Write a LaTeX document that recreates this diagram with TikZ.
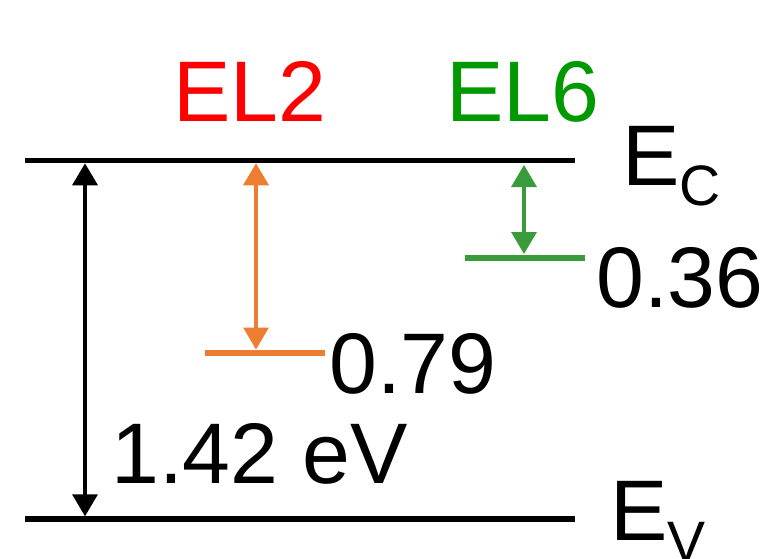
\documentclass[tikz,border=0pt]{standalone}
\usepackage{fontspec}
\setmainfont{Liberation Sans}
\usetikzlibrary{arrows.meta}
\definecolor{elred}{RGB}{255,0,0}
\definecolor{elgreen}{RGB}{0,153,0}
\definecolor{lvgreen}{RGB}{58,155,58}
\definecolor{lvorange}{RGB}{237,125,49}
\begin{document}
\begin{tikzpicture}[x=1pt,y=-1pt,
  lbl/.style={inner sep=0pt, anchor=base west, font=\fontsize{86}{90}\selectfont},
  sublbl/.style={inner sep=0pt, anchor=base west, font=\fontsize{57}{60}\selectfont},
  band/.style={line width=5.5pt},
  lvl/.style={line width=6pt},
  darr/.style={{Triangle[width=25pt,length=22pt]}-{Triangle[width=25pt,length=22pt]}, line width=3.5pt}]
\useasboundingbox (0,0) rectangle (776,559);
% band edges
\coordinate (ecL) at (25,160.5);
\coordinate (ecR) at (575,160.5);
\coordinate (evL) at (25,519);
\coordinate (evR) at (575,519);
\draw[band] (ecL) -- (ecR);
\draw[band] (evL) -- (evR);
% defect levels
\coordinate (el2L) at (205,352.5);
\coordinate (el2R) at (325,352.5);
\coordinate (el6L) at (465,257.5);
\coordinate (el6R) at (585,257.5);
\draw[lvl, lvorange] (el2L) -- (el2R);
\draw[lvl, lvgreen] (el6L) -- (el6R);
% arrows
\coordinate (gapT) at (85,163.3);
\coordinate (gapB) at (85,516.3);
\coordinate (o2T) at (256,163.3);
\coordinate (o2B) at (256,349.5);
\coordinate (g6T) at (524,165);
\coordinate (g6B) at (524,254);
\draw[darr, black] (gapT) -- (gapB);
\draw[darr, lvorange] (o2T) -- (o2B);
\draw[darr, lvgreen] (g6T) -- (g6B);
% labels
\node[lbl, text=elred] (tEL2) at (173,122) {EL2};
\node[lbl, text=elgreen] (tEL6) at (446,122) {EL6};
\node[lbl] (tEc) at (622,185) {E};
\node[sublbl] (tEcs) at (679,205) {C};
\node[lbl] (t036) at (596,307) {0.36};
\node[lbl] (t079) at (329,393) {0.79};
\node[lbl] (tgap) at (111,483) {1.42 eV};
\node[lbl] (tEv) at (610,540) {E};
\node[sublbl] (tEvs) at (667,561) {V};
\end{tikzpicture}
\end{document}
